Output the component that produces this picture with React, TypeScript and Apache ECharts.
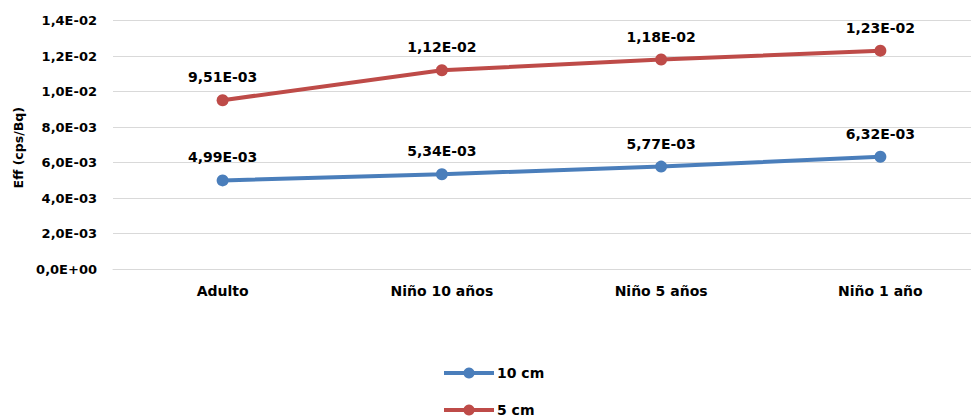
import React, { useEffect, useRef } from "react";
import * as echarts from "echarts";

const categories = ["Adulto", "Niño 10 años", "Niño 5 años", "Niño 1 año"];
const series10cm = [4.99e-3, 5.34e-3, 5.77e-3, 6.32e-3];
const series5cm = [9.51e-3, 1.12e-2, 1.18e-2, 1.23e-2];
const seriesNames = ["10 cm", "5 cm"];
const yAxisName = "Eff (cps/Bq)";

function fmtExp(v: number, d: number): string {
  if (Math.abs(v) < 1e-12) return (0).toFixed(d).replace(".", ",") + "E+00";
  const s = v.toExponential(d);
  const [m, e] = s.split("e");
  const n = parseInt(e, 10);
  return m.replace(".", ",") + "E" + (n < 0 ? "-" : "+") + String(Math.abs(n)).padStart(2, "0");
}

const FONT = "DejaVu Sans";

export default function App() {
  const ref = useRef<HTMLDivElement>(null);
  useEffect(() => {
    if (!ref.current) return;
    const chart = echarts.init(ref.current, null, { renderer: "svg" });
    const label = {
      show: true,
      position: "top",
      distance: 10,
      color: "#000",
      fontFamily: FONT,
      fontWeight: "bold",
      fontSize: 14,
      formatter: (p: any) => fmtExp(p.value, 2),
    };
    chart.setOption({
      animation: false,
      backgroundColor: "#fff",
      grid: {
        left: 113,
        width: 877,
        top: 20.5,
        height: 248.5,
        containLabel: false,
        outerBoundsMode: "none",
      },
      legend: {
        orient: "vertical",
        left: 442,
        top: 366,
        height: 80,
        itemWidth: 50,
        itemHeight: 14,
        itemGap: 23,
        padding: 0,
        lineStyle: { width: 4 },
        textStyle: { color: "#000", fontFamily: FONT, fontWeight: "bold", fontSize: 14, padding: [0, 0, 0, -2] },
        data: seriesNames,
      },
      xAxis: {
        type: "category",
        data: categories,
        boundaryGap: true,
        axisLine: { show: true, lineStyle: { color: "#d9d9d9", width: 1 } },
        axisTick: { show: false },
        axisLabel: { color: "#000", fontFamily: FONT, fontWeight: "bold", fontSize: 14, margin: 15 },
      },
      yAxis: {
        type: "value",
        min: 0,
        max: 0.014,
        interval: 0.002,
        name: yAxisName,
        nameLocation: "middle",
        nameGap: 83,
        nameRotate: 90,
        nameTextStyle: {
          color: "#000",
          fontFamily: FONT,
          fontWeight: "bold",
          fontSize: 12.5,
          padding: [0, 6, 0, 0],
        },
        axisLine: { show: false },
        axisTick: { show: false },
        splitLine: { lineStyle: { color: "#d9d9d9", width: 1 } },
        axisLabel: {
          color: "#000",
          fontFamily: FONT,
          fontWeight: "bold",
          fontSize: 13,
          margin: 16,
          formatter: (v: number) => fmtExp(v, 1),
        },
      },
      series: [
        {
          name: seriesNames[0],
          type: "line",
          data: series10cm,
          symbol: "circle",
          symbolSize: 12,
          lineStyle: { color: "#4a7ebb", width: 4 },
          itemStyle: { color: "#4a7ebb" },
          label,
        },
        {
          name: seriesNames[1],
          type: "line",
          data: series5cm,
          symbol: "circle",
          symbolSize: 12,
          lineStyle: { color: "#be4b48", width: 4 },
          itemStyle: { color: "#be4b48" },
          label,
        },
      ],
    });
    return () => chart.dispose();
  }, []);
  return (
    <div
      ref={ref}
      style={{ position: "absolute", left: 0, top: 0, width: 971, height: 418 }}
    />
  );
}
